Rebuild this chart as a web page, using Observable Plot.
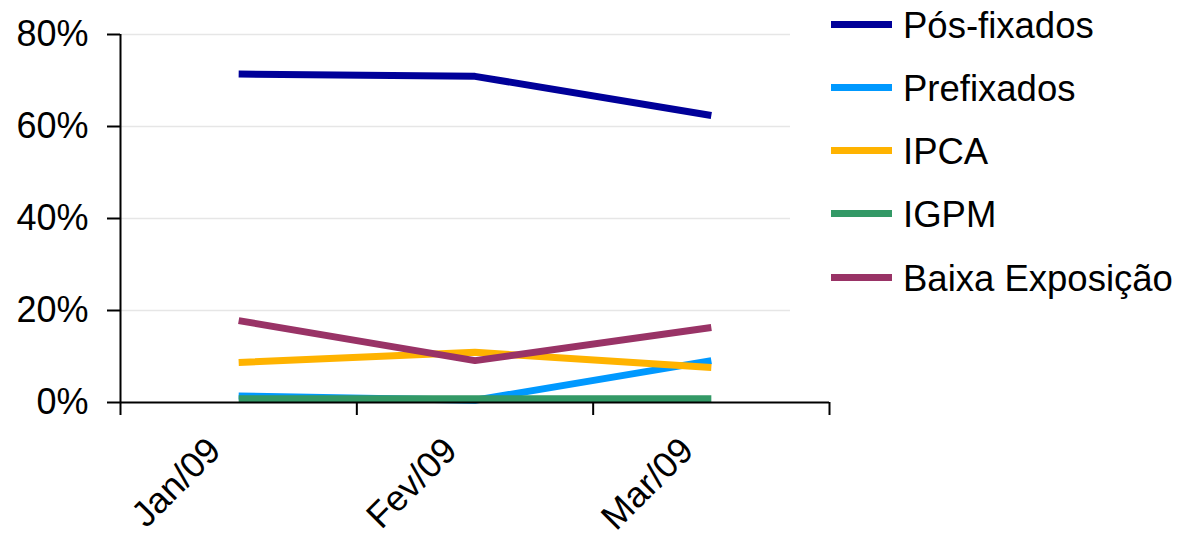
<!DOCTYPE html>
<html>
<head>
<meta charset="utf-8">
<script src="https://cdn.jsdelivr.net/npm/d3@7"></script>
<script src="https://cdn.jsdelivr.net/npm/@observablehq/plot@0.6"></script>
<style>
  html, body { margin: 0; padding: 0; background: #fff; }
  #wrap { position: relative; width: 1181px; height: 538px; font-family: "Liberation Sans", Arial, sans-serif; }
  #legend { position: absolute; left: 831px; top: 0; }
  .item { position: absolute; left: 0; height: 40px; display: flex; align-items: center; white-space: nowrap; }
  .sw { width: 61px; height: 7px; margin-right: 11px; margin-top: -3px; }
  .lab { font-size: 36.5px; color: #000; line-height: 40px; }
</style>
</head>
<body>
<div id="wrap"><div id="chart"></div><div id="legend"></div></div>
<script>
const months = ["Jan/09", "Fev/09", "Mar/09"];
const seriesNames = ["Pós-fixados", "Prefixados", "IPCA", "IGPM", "Baixa Exposição"];
const seriesColors = ["#000099", "#0099ff", "#ffb300", "#339966", "#993366"];
const posFixados = [71.4, 70.9, 62.4];
const prefixados = [1.4, 0.5, 9.1];
const ipca = [8.7, 10.9, 7.6];
const igpm = [0.8, 0.8, 0.8];
const baixaExposicao = [17.8, 9.1, 16.3];
const yTicks = [0, 20, 40, 60, 80];

const seriesValues = [posFixados, prefixados, ipca, igpm, baixaExposicao];
const rows = [];
seriesNames.forEach((name, s) => {
  seriesValues[s].forEach((v, i) => rows.push({series: name, x: i + 0.5, value: v}));
});

const chart = Plot.plot({
  width: 1181,
  height: 538,
  marginLeft: 120,
  marginRight: 352,
  marginTop: 34,
  marginBottom: 136,
  style: {fontFamily: "'Liberation Sans', Arial, sans-serif", fontSize: "36px", color: "#000", background: "#fff"},
  x: {domain: [0, months.length], axis: null},
  y: {domain: [0, 80], axis: null},
  color: {domain: seriesNames, range: seriesColors},
  marks: [
    Plot.ruleY(yTicks.slice(1), {stroke: "#e6e6e6", strokeWidth: 1.5, insetRight: 39}),
    Plot.line(rows, {x: "x", y: "value", z: "series", stroke: "series", strokeWidth: 7, strokeLinejoin: "miter", strokeLinecap: "butt"}),
    Plot.ruleX([0], {stroke: "#000", strokeWidth: 2}),
    Plot.ruleY([0], {stroke: "#000", strokeWidth: 2}),
    Plot.axisY(yTicks, {label: null, tickSize: 13, tickPadding: 19, tickFormat: d => `${d}%`, fontSize: 36, strokeWidth: 2, stroke: "#000"}),
    Plot.axisX(d3.range(months.length + 1), {label: null, tickSize: 13, tickFormat: () => "", strokeWidth: 2, stroke: "#000"}),
    Plot.text(months, {x: (d, i) => i + 0.5, frameAnchor: "bottom", rotate: -45, textAnchor: "end", lineAnchor: "bottom", dx: -16, dy: 50, fontSize: 36, fill: "#000"})
  ]
});
document.getElementById("chart").appendChild(chart);

const legend = document.getElementById("legend");
seriesNames.forEach((name, i) => {
  const item = document.createElement("div");
  item.className = "item";
  item.style.top = (22.5 + i * 63.3 - 17) + "px";
  item.innerHTML = `<div class="sw" style="background:${seriesColors[i]}"></div><span class="lab">${name}</span>`;
  legend.appendChild(item);
});
</script>
</body>
</html>
